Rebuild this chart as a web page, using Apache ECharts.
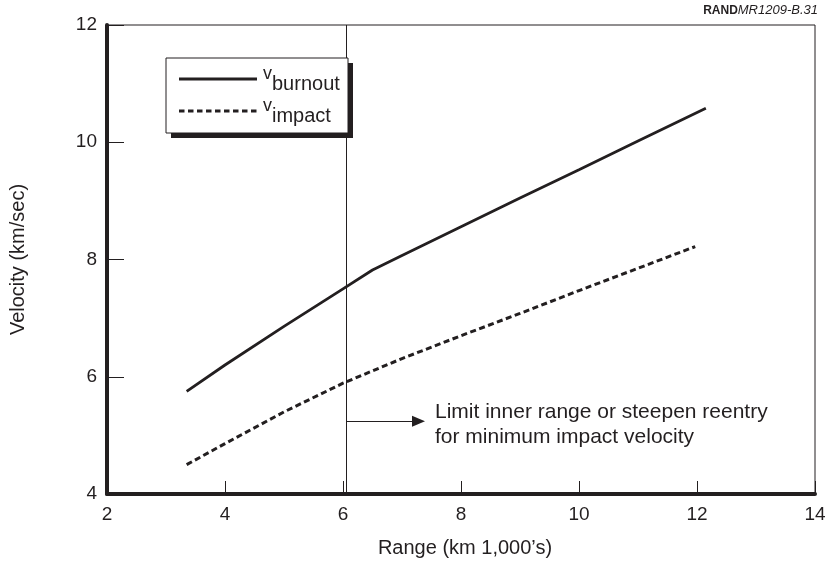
<!DOCTYPE html>
<html><head><meta charset="utf-8">
<script src="https://cdn.jsdelivr.net/npm/echarts@6/dist/echarts.min.js"></script>
<style>html,body{margin:0;padding:0;background:#fff}#c{width:830px;height:569px}</style>
</head><body><div id="c"></div>
<script>
const burnoutX = [3.35, 4, 5, 6, 6.5, 7, 8, 9, 10, 11, 12.15];
const burnoutY = [5.75, 6.2, 6.86, 7.5, 7.82, 8.07, 8.56, 9.05, 9.53, 10.02, 10.58];
const impactX = [3.35, 4, 5, 6, 7, 8, 9, 10, 11, 11.97];
const impactY = [4.5, 4.86, 5.4, 5.89, 6.31, 6.7, 7.08, 7.47, 7.85, 8.22];
const xTicks = [2, 4, 6, 8, 10, 12, 14];
const yTicks = [4, 6, 8, 10, 12];
const limitX = 6.06;
const arrowY = 5.24;
const arrowEndX = 7.28;
const FONT = '"Liberation Sans", Arial, Helvetica, sans-serif';
const INK = '#231f20';

const chart = echarts.init(document.getElementById('c'));
const pair = (xs, ys) => xs.map((x, i) => [x, ys[i]]);
chart.setOption({
  animation: false,
  textStyle: { fontFamily: FONT, color: INK },
  grid: { left: 106, right: 15, top: 25, bottom: 75, show: true, borderColor: INK, borderWidth: 1, containLabel: false },
  xAxis: {
    type: 'value', min: xTicks[0], max: xTicks[xTicks.length - 1], interval: 2,
    name: "Range (km 1,000’s)", nameLocation: 'middle', nameGap: 44,
    nameTextStyle: { fontSize: 20, color: INK, fontFamily: FONT, padding: [0, 0, 0, 8] },
    axisLine: { lineStyle: { color: INK, width: 4 } },
    axisTick: { inside: true, length: 13, lineStyle: { color: INK, width: 1 } },
    axisLabel: { fontSize: 19, color: INK, margin: 11, fontFamily: FONT },
    splitLine: { show: false }
  },
  yAxis: {
    type: 'value', min: yTicks[0], max: yTicks[yTicks.length - 1], interval: 2,
    name: 'Velocity (km/sec)', nameLocation: 'middle', nameGap: 79,
    nameTextStyle: { fontSize: 20, color: INK, fontFamily: FONT },
    axisLine: { lineStyle: { color: INK, width: 4 } },
    axisTick: { inside: true, length: 17, lineStyle: { color: INK, width: 1 } },
    axisLabel: { fontSize: 19, color: INK, margin: 10, fontFamily: FONT },
    splitLine: { show: false }
  },
  series: [
    {
      name: 'burnout', type: 'line', data: pair(burnoutX, burnoutY), showSymbol: false, symbol: 'none',
      lineStyle: { color: INK, width: 2.8, type: 'solid' },
      markLine: {
        silent: true, symbol: ['none', 'none'], animation: false,
        lineStyle: { color: INK, width: 1, type: 'solid' }, label: { show: false },
        data: [[{ coord: [limitX, yTicks[0]] }, { coord: [limitX, yTicks[yTicks.length - 1]] }]]
      }
    },
    {
      name: 'impact', type: 'line', data: pair(impactX, impactY), showSymbol: false, symbol: 'none',
      lineStyle: { color: INK, width: 3, type: [6, 3.5] },
      markLine: {
        silent: true, symbol: ['none', 'triangle'], symbolSize: [11, 13], animation: false,
        lineStyle: { color: INK, width: 1, type: 'solid' }, label: { show: false },
        data: [[{ coord: [limitX, arrowY] }, { coord: [arrowEndX, arrowY] }]]
      }
    }
  ],
  graphic: [
    { type: 'rect', shape: { x: 171, y: 63, width: 182, height: 75 }, style: { fill: INK }, z: 10 },
    { type: 'rect', shape: { x: 166, y: 58, width: 182, height: 75 }, style: { fill: '#fff', stroke: INK, lineWidth: 1 }, z: 11 },
    { type: 'line', shape: { x1: 179, y1: 79, x2: 257, y2: 79 }, style: { stroke: INK, lineWidth: 2.8 }, z: 12 },
    { type: 'line', shape: { x1: 179, y1: 111, x2: 257, y2: 111 }, style: { stroke: INK, lineWidth: 3, lineDash: [5.5, 3.5] }, z: 12 },
    { type: 'text', x: 263, y: 79, z: 12, style: { text: '{v|v}{s|burnout}', verticalAlign: 'middle', rich: {
        v: { fontSize: 18, fontFamily: FONT, fill: INK, padding: [0, 0, 10, 0] },
        s: { fontSize: 20, fontFamily: FONT, fill: INK, padding: [10, 0, 0, 0] } } } },
    { type: 'text', x: 263, y: 111, z: 12, style: { text: '{v|v}{s|impact}', verticalAlign: 'middle', rich: {
        v: { fontSize: 18, fontFamily: FONT, fill: INK, padding: [0, 0, 10, 0] },
        s: { fontSize: 20, fontFamily: FONT, fill: INK, padding: [10, 0, 0, 0] } } } },
    { type: 'text', x: 435, y: 412, z: 12, style: { text: 'Limit inner range or steepen reentry', fontSize: 21, fontFamily: FONT, fill: INK, verticalAlign: 'middle' } },
    { type: 'text', x: 435, y: 437, z: 12, style: { text: 'for minimum impact velocity', fontSize: 21, fontFamily: FONT, fill: INK, verticalAlign: 'middle' } },
    { type: 'text', right: 12, top: 4, z: 12, style: { text: '{b|RAND}{i|MR1209-B.31}', rich: {
        b: { fontSize: 12, fontWeight: 'bold', fontFamily: '"Liberation Sans Narrow", ' + FONT, fill: INK },
        i: { fontSize: 13, fontStyle: 'italic', fontFamily: FONT, fill: INK } } } }
  ]
});
</script></body></html>
